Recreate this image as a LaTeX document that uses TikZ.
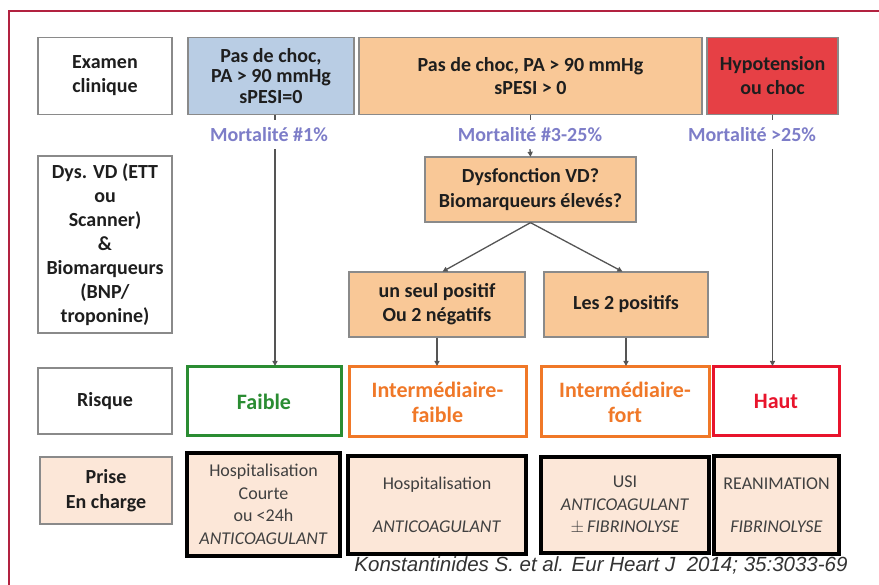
\documentclass[tikz,border=0pt]{standalone}
\usepackage{fontspec}
\setmainfont{Carlito}
\newfontfamily\citefont{Liberation Sans}
\usetikzlibrary{arrows.meta}

\definecolor{frameRed}{HTML}{B22240}
\definecolor{boxGray}{HTML}{8A8A8A}
\definecolor{skyFill}{HTML}{B9CDE4}
\definecolor{peachFill}{HTML}{F9C897}
\definecolor{alarmFill}{HTML}{E64045}
\definecolor{careFill}{HTML}{FCE7D8}
\definecolor{mortText}{HTML}{7D7DC8}
\definecolor{lowGreen}{HTML}{2A8C32}
\definecolor{midOrange}{HTML}{F07828}
\definecolor{highRed}{HTML}{E8142C}
\definecolor{inkDark}{HTML}{1E1E1E}
\definecolor{inkCare}{HTML}{404040}
\definecolor{lineGray}{HTML}{555555}

\tikzset{
  basebox/.style={draw=boxGray, line width=1.3pt, align=center, inner sep=0pt,
    text=inkDark, font=\bfseries\fontsize{20}{24}\selectfont},
  rowlabel/.style={basebox, fill=white},
  sky/.style={basebox, fill=skyFill},
  peach/.style={basebox, fill=peachFill},
  alarm/.style={basebox, fill=alarmFill},
  riskbox/.style={draw=#1, line width=3pt, fill=white, align=center, inner sep=0pt,
    text=#1, font=\bfseries\fontsize{22}{25}\selectfont},
  carebox/.style={draw=black, line width=4pt, fill=careFill, align=center, inner sep=0pt,
    text=inkCare, font=\fontsize{18}{22.5}\selectfont},
  mort/.style={inner sep=0pt, minimum height=29pt, text=mortText,
    font=\bfseries\fontsize{20}{24}\selectfont},
  conn/.style={draw=lineGray, line width=1.3pt},
  arr/.style={conn, -{Triangle[length=5pt,width=5pt]}, shorten >=-0.5pt}
}

\begin{document}
\begin{tikzpicture}[x=1pt,y=-1pt]
\useasboundingbox (0,0) rectangle (879,585);

% outer frame (left and top edges)
\draw[frameRed, line width=1.2pt] (9,585) -- (9,11) -- (879,11);

% --- row 1: clinical examination
\node[rowlabel, minimum width=134, minimum height=77] (exam) at (105,76) {Examen\\clinique};
\node[sky, minimum width=166, minimum height=77, font=\bfseries\fontsize{20}{20.5}\selectfont] (nochoc) at (271,76)
  {Pas de choc,\\PA > 90 mmHg\\sPESI=0};
\node[peach, minimum width=343, minimum height=77, font=\bfseries\fontsize{20}{23}\selectfont] (pas) at (530.5,76)
  {Pas de choc, PA > 90 mmHg\\sPESI > 0};
\node[alarm, minimum width=131, minimum height=77] (choc) at (772.5,76) {Hypotension\\ou choc};

% mortality labels
\node[mort] (m1) at (269,134.5) {Mortalité \#1\%};
\node[mort] (m2) at (530,134.5) {Mortalité \#3-25\%};
\node[mort] (m3) at (752,134.5) {Mortalité >25\%};

% --- row 2: RV dysfunction and biomarkers
\node[rowlabel, minimum width=134, minimum height=177] (dyslab) at (105,244.5)
  {Dys. VD (ETT\\ou\\Scanner)\\\&\\Biomarqueurs\\(BNP/\\troponine)};
\node[peach, minimum width=211, minimum height=65, font=\bfseries\fontsize{20}{25}\selectfont] (dys) at (530.5,189.5)
  {Dysfonction VD?\\Biomarqueurs élevés?};
\node[peach, minimum width=176, minimum height=65] (oneplus) at (437,304.5) {un seul positif\\Ou 2 négatifs};
\node[peach, minimum width=164, minimum height=65] (twoplus) at (626,304.5) {Les 2 positifs};

% --- row 3: risk level
\node[rowlabel, minimum width=134, minimum height=66] (risque) at (105,401) {Risque};
\node[riskbox=lowGreen, minimum width=154, minimum height=69] (faible) at (264,401.5) {Faible};
\node[riskbox=midOrange, minimum width=177, minimum height=70] (intlow) at (437.5,402) {Intermédiaire-\\faible};
\node[riskbox=midOrange, minimum width=168, minimum height=70] (inthigh) at (625,402) {Intermédiaire-\\fort};
\node[riskbox=highRed, minimum width=126, minimum height=69] (haut) at (776,401.5) {Haut};

% --- row 4: management
\node[basebox, fill=careFill, minimum width=132, minimum height=67, font=\bfseries\fontsize{20}{25}\selectfont]
  (prise) at (106,490.5) {Prise\\En charge};
\node[carebox, minimum width=153, minimum height=103] (care1) at (263.5,504.5)
  {Hospitalisation\\Courte\\ou <24h\\\textit{ANTICOAGULANT}};
\node[carebox, minimum width=178, minimum height=98] (care2) at (437,505)
  {Hospitalisation\\[20pt]\textit{ANTICOAGULANT}};
\node[carebox, minimum width=168, minimum height=96] (care3) at (625,505)
  {USI\\\textit{ANTICOAGULANT}\\$\pm$\,\textit{FIBRINOLYSE}};
\node[carebox, minimum width=125, minimum height=98] (care4) at (776.5,505)
  {REANIMATION\\[20pt]\textit{FIBRINOLYSE}};

% reference
\node[inner sep=0pt, text=black!80, font=\citefont\itshape\fontsize{20.5}{24}\selectfont] (ref) at (601,565)
  {Konstantinides S. et al. Eur Heart J\ \ 2014; 35:3033-69};

% --- connectors
\draw[conn] ([xshift=4pt]nochoc.south) -- ([xshift=4pt]nochoc.south |- m1.north);
\draw[arr] ([xshift=6pt]m1.south) -- ([xshift=6pt]m1.south |- faible.north);

\draw[conn] (pas.south) -- (pas.south |- m2.north);
\draw[arr] (m2.south) -- (dys.north);

\draw[conn] (choc.south) -- (choc.south |- m3.north);
\draw[arr] (choc.south |- m3.south) -- (choc.south |- haut.north);

\draw[arr] (dys.south) -- ([xshift=6pt]oneplus.north);
\draw[arr] (dys.south) -- ([xshift=-4pt]twoplus.north);

\draw[arr] (oneplus.south) -- (oneplus.south |- intlow.north);
\draw[arr] (twoplus.south) -- (twoplus.south |- inthigh.north);
\end{tikzpicture}
\end{document}
